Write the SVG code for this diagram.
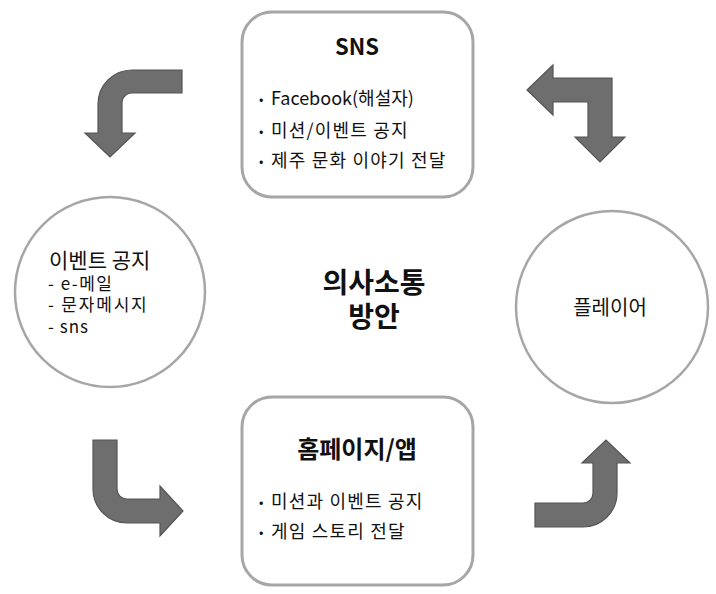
<svg xmlns="http://www.w3.org/2000/svg" width="716" height="594" viewBox="0 0 716 594">
  <style>
    .box { fill: #ffffff; stroke: #a6a6a6; stroke-width: 3; }
    .ring { fill: #ffffff; stroke: #a6a6a6; stroke-width: 2.5; }
    .flow { fill: #6e6e6e; stroke: #555555; stroke-width: 1.2; stroke-linejoin: miter; }
    text { font-family: "Noto Sans CJK KR", "Noto Sans", sans-serif; fill: #111111; }
    .title { font-weight: bold; text-anchor: middle; }
    .item { font-size: 18px; }
    .ko { letter-spacing: 1.2px; }
    .dot { font-size: 13px; }
  </style>

  <rect width="716" height="594" fill="#ffffff"/>

  <!-- curved and bent arrows between the nodes -->
  <g id="connectors">
    <path class="flow" d="M182,70 L132,70 A34,34 0 0 0 98,104 L98,133 L85,133 L110,157 L135,133 L122,133 L122,104 A10,10 0 0 1 132,93 L182,93 Z"/>
    <path class="flow" d="M527,90 L553,65 L553,78 L612,78 L612,137 L625,137 L600,162 L575,137 L588,137 L588,102 L553,102 L553,115 Z"/>
    <path class="flow" d="M93,440 L117,440 L117,489 A10,10 0 0 0 127,499 L160,499 L160,486 L183,511 L160,536 L160,523 L127,523 A34,34 0 0 1 93,489 Z"/>
    <path class="flow" d="M535,503 L583,503 A10,10 0 0 0 593,493 L593,463 L582,463 L606,440 L630,463 L617,463 L617,493 A34,34 0 0 1 583,527 L535,527 Z"/>
  </g>

  <g id="sns">
    <rect class="box" x="242" y="12" width="231" height="185" rx="30"/>
    <text class="title" x="357" y="55" font-size="22">SNS</text>
    <text class="dot" x="259" y="104">•</text>
    <text class="item" x="271" y="105">Facebook(해설자)</text>
    <text class="dot" x="259" y="136">•</text>
    <text class="item ko" x="271" y="137">미션/이벤트 공지</text>
    <text class="dot" x="259" y="166">•</text>
    <text class="item ko" x="271" y="167">제주 문화 이야기 전달</text>
  </g>

  <g id="homepage">
    <rect class="box" x="242" y="397" width="231" height="188" rx="30"/>
    <text class="title" x="357" y="458" font-size="24">홈페이지/앱</text>
    <text class="dot" x="259" y="507">•</text>
    <text class="item ko" x="271" y="508">미션과 이벤트 공지</text>
    <text class="dot" x="259" y="537">•</text>
    <text class="item ko" x="271" y="538">게임 스토리 전달</text>
  </g>

  <g id="event">
    <circle class="ring" cx="110" cy="292" r="95"/>
    <text x="49" y="268" font-size="21">이벤트 공지</text>
    <text x="48" y="290" font-size="17" letter-spacing="1.5">- e-메일</text>
    <text x="48" y="311" font-size="17" letter-spacing="1.8">- 문자메시지</text>
    <text x="48" y="333" font-size="17" letter-spacing="1">- sns</text>
  </g>

  <g id="player">
    <circle class="ring" cx="612" cy="307" r="96"/>
    <text x="610" y="315" font-size="20" text-anchor="middle">플레이어</text>
  </g>

  <g id="center">
    <text class="title" x="374" y="293" font-size="28">의사소통</text>
    <text class="title" x="374" y="327" font-size="28">방안</text>
  </g>
</svg>
